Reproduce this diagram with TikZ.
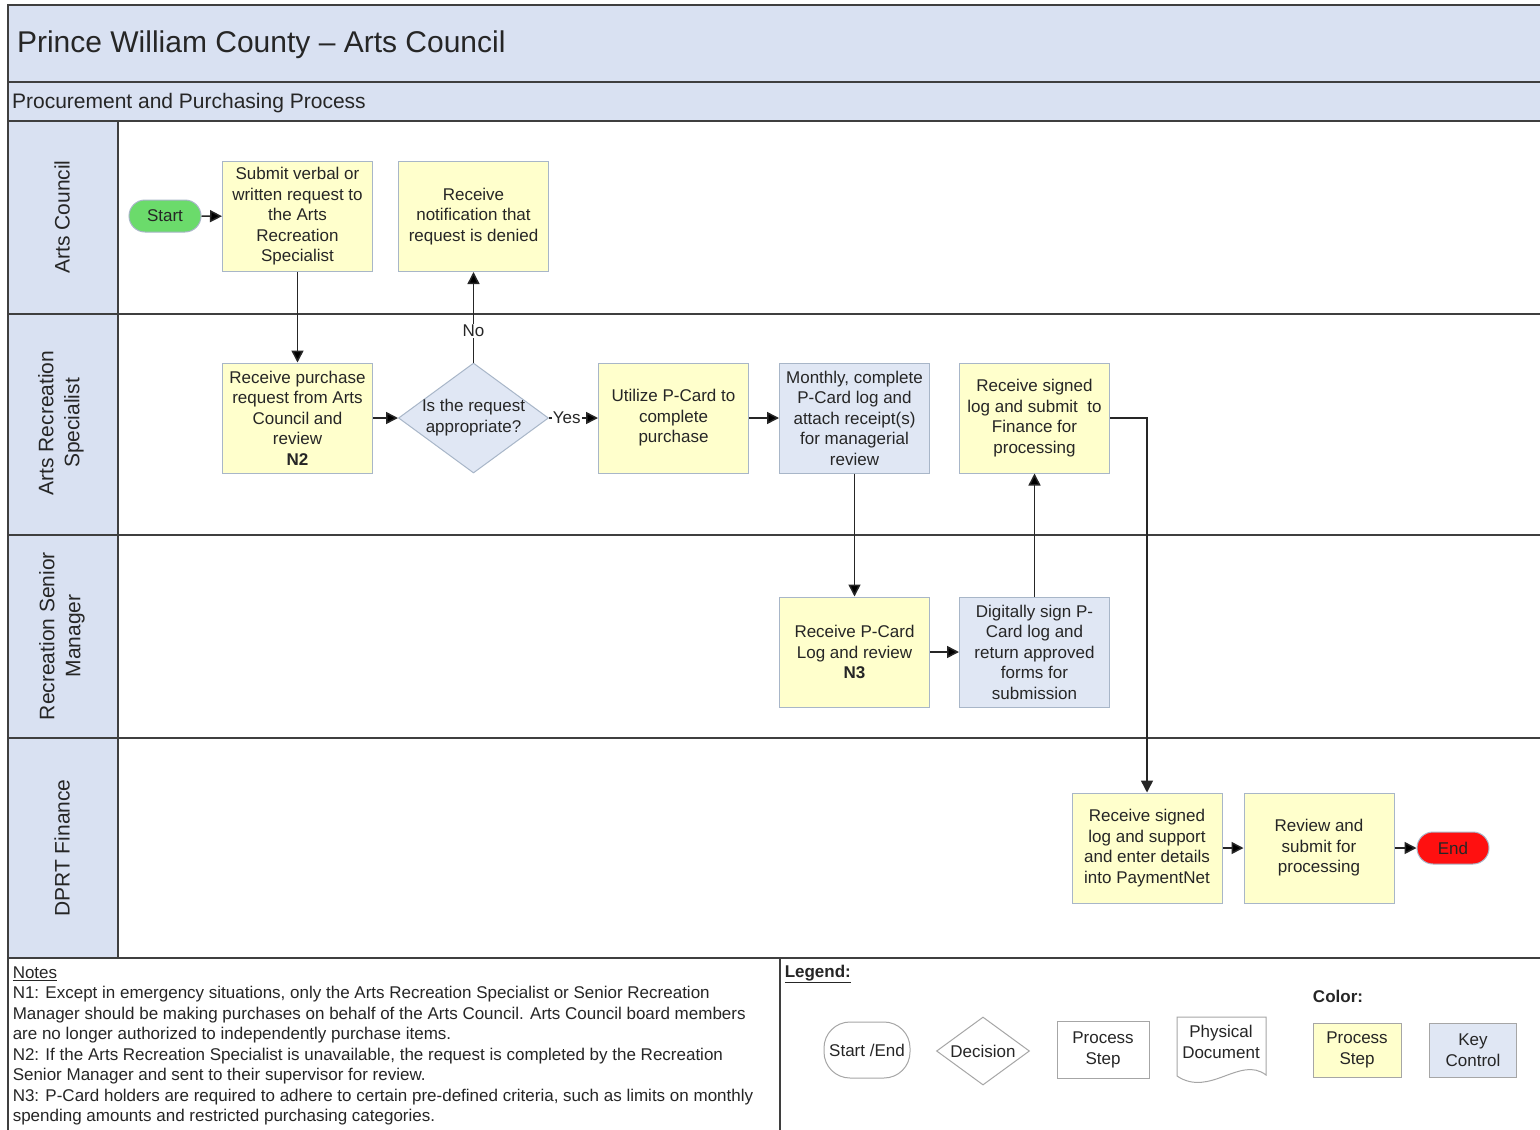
\documentclass[tikz,border=0pt]{standalone}
\usepackage{fontspec}
\setmainfont{Liberation Sans}
\usepackage{tikz}
\usetikzlibrary{arrows.meta,positioning,shapes.geometric}

\definecolor{bandblue}{HTML}{D9E1F2}
\definecolor{procyellow}{HTML}{FFFFCC}
\definecolor{keyblue}{HTML}{E0E7F4}
\definecolor{boxline}{HTML}{A8B6C8}
\definecolor{laneline}{HTML}{3F3F3F}
\definecolor{startgreen}{HTML}{6BDB6B}
\definecolor{endred}{HTML}{FF1010}
\definecolor{legline}{HTML}{A6A6A6}
\definecolor{inktext}{HTML}{262626}

\begin{document}
\begin{tikzpicture}[x=1pt,y=-1pt,>={Triangle[length=12pt,width=12pt]},line width=1.5pt,
                    node distance=25pt]
\tikzstyle{proc}=[rectangle,draw=boxline,line width=1pt,fill=procyellow,text=inktext,minimum width=150pt,minimum height=110pt,align=center,inner sep=2pt]
\tikzstyle{key}=[proc,fill=keyblue]
\tikzstyle{term}=[rectangle,rounded corners=16pt,draw=boxline,line width=1pt,minimum width=72pt,minimum height=32pt,text=inktext]
\tikzstyle{decide}=[diamond,draw=boxline,line width=1pt,fill=keyblue,minimum width=150pt,minimum height=110pt,inner sep=0pt,text=inktext]
\tikzstyle{lbl}=[fill=white,inner sep=1pt,text=inktext]
\tikzstyle{lane}=[rotate=90,align=center,text=inktext,font=\fontsize{21}{26}\selectfont]
\tikzstyle{leg}=[rectangle,draw=legline,line width=1pt,align=center,text=inktext]
\tikzset{font=\fontsize{17}{20.5}\selectfont}

        \useasboundingbox (0,0) rectangle (1540,1130);
        \fill[white] (0,0) rectangle (1540,1130);

        % bands and lanes
        \draw[laneline,line width=1.8pt,fill=bandblue] (8,5) rectangle (1560,82);
        \draw[laneline,line width=1.8pt,fill=bandblue] (8,82) rectangle (1560,121);
        \draw[laneline,line width=1.8pt,fill=bandblue] (8,121) rectangle (118,958);
        \foreach \y in {314,535,738,958}
            \draw[laneline,line width=1.8pt] (8,\y) -- (1560,\y);
        \draw[laneline,line width=1.8pt] (8,5) -- (8,1135);
        \draw[laneline,line width=1.4pt] (780,958) -- (780,1135);

        \node[anchor=west,text=inktext,font=\fontsize{30}{36}\selectfont] (title) at (13,45) {Prince William County – Arts Council};
        \node[anchor=west,text=inktext,font=\fontsize{21}{25}\selectfont] (subtitle) at (8,103) {Procurement and Purchasing Process};

        \node[lane] (lac)  at (62,217) {Arts Council};
        \node[lane] (lars) at (61,423) {Arts Recreation\\Specialist};
        \node[lane] (lrsm) at (62,636) {Recreation Senior\\Manager};
        \node[lane] (ldf)  at (62,848) {DPRT Finance};

        % flow
        \node[term,fill=startgreen]        (start)    at (165,216)     {Start};
        \node[proc]                        (submit)   at (297.5,216.5) {Submit verbal or\\written request to\\the Arts\\Recreation\\Specialist};
        \node[proc]                        (denied)   [right=of submit] {Receive\\notification that\\request is denied};

        \node[proc]                        (rcvreq)   at (297.5,418)   {Receive purchase\\request from Arts\\Council and\\review\\\textbf{N2}};
        \node[decide]                      (appr)     [right=of rcvreq] {\makebox[0pt]{\begin{tabular}{@{}c@{}}Is the request\\appropriate?\end{tabular}}};
        \node[proc]                        (utilize)  [right=49pt of appr] {Utilize P-Card to\\complete\\purchase};
        \node[key]                         (monthly)  [right=30pt of utilize] {Monthly, complete\\P-Card log and\\attach receipt(s)\\for managerial\\review};
        \node[proc]                        (signed)   [right=29pt of monthly] {Receive signed\\log and submit~ to\\Finance for\\processing};

        \node[proc]                        (pcardlog) [below=123pt of monthly] {Receive P-Card\\Log and review\\\textbf{N3}};
        \node[key]                         (digsign)  [right=29pt of pcardlog] {Digitally sign P-\\Card log and\\return approved\\forms for\\submission};

        \node[proc]                        (paynet)   at (1147,848)    {Receive signed\\log and support\\and enter details\\into PaymentNet};
        \node[proc]                        (review)   [right=21pt of paynet] {Review and\\submit for\\processing};
        \node[term,fill=endred]            (end)      [right=22pt of review] {End};

        \path[->,draw=inktext]
        (start)    edge                          (submit)
        (submit)   edge                          (rcvreq)
        (rcvreq)   edge                          (appr)
        (appr)     edge node[lbl,pos=0.35] {No}  (denied)
        (appr)     edge node[lbl,pos=0.36] {Yes} (utilize)
        (utilize)  edge                          (monthly)
        (monthly)  edge                          (pcardlog)
        (pcardlog) edge                          (digsign)
        (digsign)  edge                          (signed)
        (paynet)   edge                          (review)
        (review)   edge                          (end)
        ; %end path
        \draw[->,draw=inktext] (signed) -| (paynet);

        % notes
        \node[anchor=north west,align=left,text=inktext,inner sep=0pt] (notes) at (12,966) {\underline{Notes}\\
N1: Except in emergency situations, only the Arts Recreation Specialist or Senior Recreation\\
Manager should be making purchases on behalf of the Arts Council. Arts Council board members\\
are no longer authorized to independently purchase items.\\
N2: If the Arts Recreation Specialist is unavailable, the request is completed by the Recreation\\
Senior Manager and sent to their supervisor for review.\\
N3: P-Card holders are required to adhere to certain pre-defined criteria, such as limits on monthly\\
spending amounts and restricted purchasing categories.};

        % legend
        \node[anchor=north west,inner sep=0pt,text=inktext,font=\fontsize{17}{20.5}\selectfont\bfseries] (legend) at (784,964) {\underline{Legend:}};
        \node[text=inktext,font=\fontsize{17}{20.5}\selectfont\bfseries] (color) at (1338,996) {Color:};
        \node[leg,rounded corners=26pt,minimum width=86pt,minimum height=56pt] (legterm) at (867,1050) {Start /End};
        \node[diamond,draw=legline,line width=1pt,minimum width=93pt,minimum height=68pt,inner sep=0pt,text=inktext] (legdec) at (983,1051) {\makebox[0pt]{Decision}};
        \node[leg,minimum width=92pt,minimum height=57pt] (legproc) at (1103,1050) {Process\\Step};
        \draw[legline,line width=1pt] (1177,1017) -- (1266,1017) -- (1266,1075) .. controls (1240,1055) and (1210,1098) .. (1177,1076) -- cycle;
        \node[text=inktext,align=center] (legdoc) at (1221,1042) {Physical\\Document};
        \node[leg,fill=procyellow,minimum width=88pt,minimum height=54pt] (legyel) at (1357,1050) {Process\\Step};
        \node[leg,fill=keyblue,minimum width=87pt,minimum height=54pt] (legkey) at (1473,1050) {Key\\Control};

\end{tikzpicture}
\end{document}
